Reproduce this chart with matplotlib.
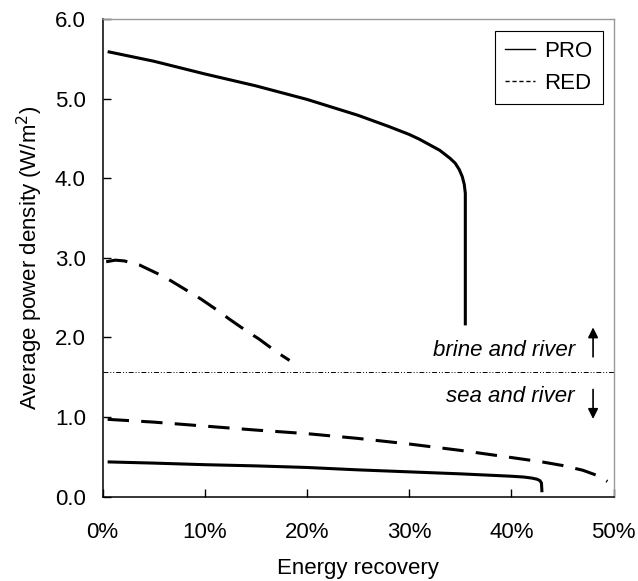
import matplotlib.pyplot as plt
from matplotlib.lines import Line2D
from matplotlib.ticker import PercentFormatter, FormatStrFormatter

plt.rcParams['font.family'] = ['Liberation Sans', 'DejaVu Sans']

# === Data ===
pro_high_x = [0.005, 0.05, 0.10, 0.15, 0.20, 0.25, 0.28, 0.30, 0.31, 0.32, 0.33, 0.34,
              0.345, 0.349, 0.352, 0.354, 0.355, 0.355]
pro_high_y = [5.59, 5.47, 5.31, 5.16, 4.99, 4.79, 4.65, 4.55, 4.49, 4.42, 4.35, 4.25,
              4.19, 4.11, 4.02, 3.92, 3.81, 2.15]

red_high_x = [0.0036, 0.0125, 0.0215, 0.036, 0.054, 0.067, 0.085, 0.0965, 0.1135, 0.124,
              0.142, 0.153, 0.171, 0.183]
red_high_y = [2.95, 2.97, 2.96, 2.91, 2.80, 2.71, 2.57, 2.48, 2.33, 2.23, 2.07, 1.98, 1.81, 1.71]

red_low_x = [0.005, 0.05, 0.10, 0.15, 0.20, 0.25, 0.30, 0.35, 0.40, 0.43, 0.45, 0.47, 0.485, 0.494]
red_low_y = [0.97, 0.935, 0.885, 0.835, 0.79, 0.73, 0.66, 0.58, 0.49, 0.435, 0.39, 0.33, 0.26, 0.19]

pro_low_x = [0.005, 0.05, 0.10, 0.15, 0.20, 0.25, 0.30, 0.35, 0.40, 0.412, 0.42, 0.425,
             0.428, 0.4295, 0.430]
pro_low_y = [0.435, 0.42, 0.40, 0.385, 0.365, 0.335, 0.31, 0.285, 0.255, 0.245, 0.232, 0.218,
             0.20, 0.17, 0.054]

divider_y = 1.57
arrow_x = 0.48

FS = 16

fig = plt.figure(figsize=(6.38, 5.81), dpi=100)
ax = fig.add_axes([0.1607, 0.1454, 0.8009, 0.8219])

ax.plot(pro_high_x, pro_high_y, color='black', lw=2.2, solid_capstyle='butt')
ax.plot(pro_low_x, pro_low_y, color='black', lw=2.2, solid_capstyle='butt')
ax.plot(red_high_x, red_high_y, color='black', lw=2.2, dashes=(7, 4))
ax.plot(red_low_x, red_low_y, color='black', lw=2.2, dashes=(7, 4))
ax.axhline(divider_y, color='black', lw=0.7, dashes=(5, 2, 1, 2, 1, 2))

# regime labels and arrows
ax.text(0.462, 1.84, 'brine and river', style='italic', fontsize=FS, ha='right', va='center')
ax.text(0.462, 1.26, 'sea and river', style='italic', fontsize=FS, ha='right', va='center')
ax.annotate('', xy=(arrow_x, 2.16), xytext=(arrow_x, 1.72),
            arrowprops=dict(arrowstyle='-|>', color='black', lw=1.2, mutation_scale=15))
ax.annotate('', xy=(arrow_x, 0.94), xytext=(arrow_x, 1.38),
            arrowprops=dict(arrowstyle='-|>', color='black', lw=1.2, mutation_scale=15))

ax.set_xlim(0, 0.5)
ax.set_ylim(0, 6)
ax.set_xticks([0, 0.1, 0.2, 0.3, 0.4, 0.5])
ax.set_yticks([0, 1, 2, 3, 4, 5, 6])
ax.xaxis.set_major_formatter(PercentFormatter(1.0, decimals=0))
ax.yaxis.set_major_formatter(FormatStrFormatter('%.1f'))
ax.tick_params(direction='in', length=6, width=1, labelsize=FS)
ax.tick_params(axis='x', pad=18)
ax.tick_params(axis='y', pad=12)

for side in ['top', 'right']:
    ax.spines[side].set_color('#999999')
    ax.spines[side].set_linewidth(1)
for side in ['left', 'bottom']:
    ax.spines[side].set_linewidth(1.1)

ax.set_xlabel('Energy recovery', fontsize=FS, labelpad=11)
ax.set_ylabel('Average power density (W/m$^2$)', fontsize=FS, labelpad=7)

handles = [Line2D([], [], color='black', lw=1),
           Line2D([], [], color='black', lw=1, dashes=(3, 2))]
leg = ax.legend(handles, ['PRO', 'RED'], loc='upper right', fontsize=FS,
                fancybox=False, edgecolor='black', framealpha=1,
                handlelength=1.35, handletextpad=0.45, borderpad=0.45,
                labelspacing=0.5, borderaxespad=0,
                bbox_to_anchor=(0.979, 0.975))
leg.get_frame().set_linewidth(0.8)

plt.savefig('out.png', dpi=100)
